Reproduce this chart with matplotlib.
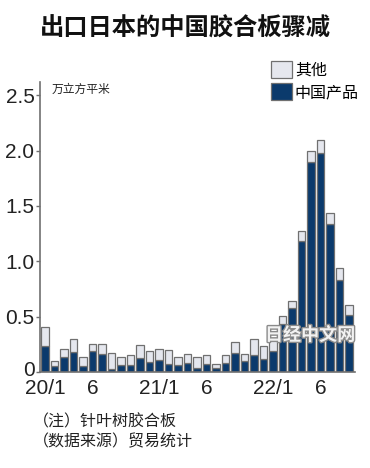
import matplotlib.pyplot as plt
import matplotlib.patheffects as pe
import matplotlib.transforms as mtransforms

plt.rcParams['font.family'] = ['Noto Sans CJK SC', 'DejaVu Sans']

# monthly data, 2020/1 .. 2022/9 (unit: 10k m3)
months = list(range(33))
china = [0.235, 0.057, 0.14, 0.18, 0.057, 0.19, 0.16, 0.03, 0.063, 0.063,
         0.13, 0.087, 0.112, 0.076, 0.066, 0.079, 0.037, 0.07, 0.032, 0.078,
         0.175, 0.10, 0.155, 0.115, 0.19, 0.43, 0.575, 1.18, 1.90, 1.98,
         1.335, 0.83, 0.515]
total = [0.41, 0.10, 0.21, 0.30, 0.14, 0.25, 0.25, 0.175, 0.14, 0.157,
         0.24, 0.188, 0.212, 0.203, 0.14, 0.162, 0.135, 0.152, 0.075, 0.157,
         0.268, 0.162, 0.298, 0.235, 0.31, 0.51, 0.645, 1.27, 2.0, 2.10,
         1.435, 0.94, 0.605]
other = [t - c for t, c in zip(total, china)]

xtick_pos = [0, 5, 12, 17, 24, 29]
xtick_labels = ["20/1", "6", "21/1", "6", "22/1", "6"]
ytick_pos = [0, 0.5, 1.0, 1.5, 2.0, 2.5]
ytick_labels = ["0", "0.5", "1.0", "1.5", "2.0", "2.5"]

navy = "#0b3a6c"
light = "#e5e7ee"
edge = "#707070"
num_font = ['Liberation Sans Narrow', 'Liberation Sans', 'DejaVu Sans']

fig = plt.figure(figsize=(3.70, 4.68), dpi=100)
ax = fig.add_axes([40/370, 96/468, 315/370, 290/468])

ax.bar(months, china, width=0.8, color=navy, edgecolor=edge, linewidth=0.9, label="中国产品")
ax.bar(months, other, bottom=china, width=0.8, color=light, edgecolor=edge, linewidth=0.9, label="其他")

ax.set_xlim(-0.53, 32.63)
ax.set_ylim(0, 2.62)
ax.set_xticks(xtick_pos)
ax.set_xticklabels(xtick_labels, family=num_font)
ax.set_yticks(ytick_pos)
ax.set_yticklabels(ytick_labels, family=num_font)
ax.tick_params(axis='x', length=0, labelsize=15, pad=5, colors="#222222")
ax.tick_params(axis='y', direction='out', length=3, width=1, labelsize=15, pad=1,
               colors="#222222", color=edge)
for s in ["top", "right"]:
    ax.spines[s].set_visible(False)
for s in ["left", "bottom"]:
    ax.spines[s].set_color(edge)
    ax.spines[s].set_linewidth(1.2)

# nudge the "0" label up a little so it clears "20/1"
zero_lbl = ax.get_yticklabels()[0]
zero_lbl.set_transform(zero_lbl.get_transform() +
                       mtransforms.ScaledTranslation(0, 4/100, fig.dpi_scale_trans))

fig.text(52/370, 1 - 89/468, "万立方平米", fontsize=8.5,
         va='center', ha='left', color="#222222")

# legend (order: other on top)
h, l = ax.get_legend_handles_labels()
leg = fig.legend(h[::-1], l[::-1], loc='upper left', bbox_to_anchor=(263/370, 1 - 53/468),
                 frameon=False, fontsize=11.5, handlelength=1.3, handleheight=1.3,
                 handletextpad=0.2, labelspacing=0.25, borderpad=0)

fig.text(0.5, 1 - 29/468, "出口日本的中国胶合板骤减", ha='center', va='center',
         fontsize=17.5, fontweight='bold', color="#111111")
fig.text(33/370, 1 - 422/468, "（注）针叶树胶合板", ha='left', va='center',
         fontsize=11.5, color="#222222")
fig.text(33/370, 1 - 442/468, "（数据来源）贸易统计", ha='left', va='center',
         fontsize=11.5, color="#222222")

wm = fig.text(310/370, 1 - 335/468, "日经中文网", ha='center', va='center',
              fontsize=13, fontweight='bold', color="#f2f2f2")
wm.set_path_effects([pe.withStroke(linewidth=2, foreground="#8a8a8a")])

fig.savefig("out.png", dpi=100)
